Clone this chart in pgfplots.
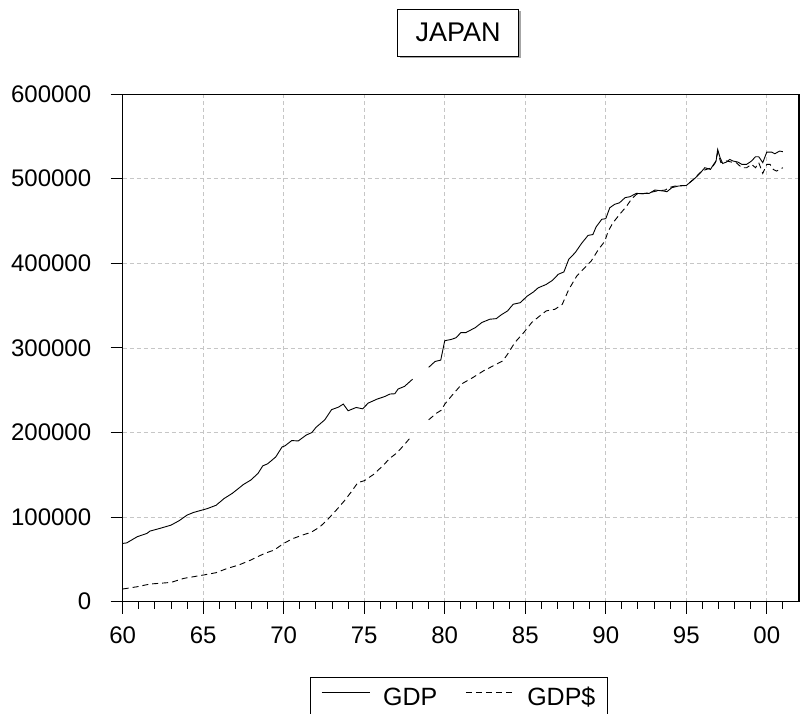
\documentclass[border=0pt]{standalone}
\usepackage{fontspec}
\setmainfont{Liberation Sans}
\usepackage{pgfplots}
\pgfplotsset{compat=1.18}
\usetikzlibrary{shadows}

\begin{document}
\begin{tikzpicture}[x=1pt,y=1pt]
\useasboundingbox (0,0) rectangle (800,713);
\begin{axis}[
  at={(122.7pt,111.3pt)}, anchor=south west,
  scale only axis, width=676.3pt, height=507.6pt,
  xmin=1960, xmax=2002, ymin=0, ymax=600000,
  axis line style={line width=1.2pt},
  xtick={1960,1965,...,2000},
  xticklabels={60,65,70,75,80,85,90,95,00},
  minor xtick={1961,1962,...,2001},
  ytick={0,100000,...,600000},
  scaled y ticks=false,
  /pgf/number format/assume math mode=true,
  tick align=outside,
  tick pos=lower,
  major tick length=12pt, minor tick length=7pt,
  tick style={black, line width=0.9pt},
  grid=major,
  major grid style={gray!45, dash pattern=on 4pt off 3pt, line width=0.8pt},
  ticklabel style={font=\fontsize{24}{24}\selectfont},
  xticklabel style={yshift=-10pt},
  yticklabel style={xshift=-16pt, /pgf/number format/.cd, fixed, 1000 sep={}},
  unbounded coords=jump,
  title={JAPAN},
  title style={at={(0.4958,1.1095)}, anchor=center, draw=black, line width=0.8pt,
    fill=white, font=\fontsize{27}{27}\selectfont, minimum width=121pt,
    minimum height=47pt, inner sep=0pt,
    drop shadow={shadow xshift=2pt, shadow yshift=-2pt, fill=gray!70, opacity=1}},
  legend columns=2,
  legend style={at={(0.497,-0.1478)}, anchor=north, draw=black, line width=0.8pt,
    fill=white, font=\fontsize{25}{25}\selectfont, inner xsep=11pt, inner ysep=0pt,
    nodes={inner xsep=1pt, inner ysep=1pt, text height=27pt, text depth=20pt},
    /tikz/every odd column/.append style={column sep=12pt},
    /tikz/every even column/.append style={column sep=27pt}},
  legend image code/.code={\draw[#1] (0pt,9pt) -- (48pt,9pt);},
]
% GDP (solid)
\addplot[black, line width=0.9pt] coordinates {
(1960.00,68900) (1960.25,69500) (1960.90,76800) (1961.50,80700) (1961.70,83500)
(1962.30,86600) (1963.00,90500) (1963.50,95700) (1964.00,102400) (1964.40,105500)
(1965.00,108700) (1965.25,110000) (1965.80,114000) (1966.30,122000) (1966.80,128000)
(1967.20,134000) (1967.50,138600) (1967.95,143700) (1968.40,151600) (1968.70,160600)
(1969.00,163000) (1969.50,171000) (1969.90,183000) (1970.06,184000) (1970.50,190500)
(1970.90,190000) (1971.40,197000) (1971.75,200000) (1972.00,206000) (1972.55,215000)
(1972.97,227000) (1973.40,230000) (1973.70,233600) (1974.00,225700) (1974.50,229600)
(1974.90,228000) (1975.25,234800) (1975.80,239500) (1976.30,242700) (1976.60,245500)
(1976.90,245800) (1977.10,251400) (1977.50,254500) (1978.00,263000)
(1978.50,nan)
(1979.00,277000) (1979.40,284000) (1979.75,285500) (1980.00,308500) (1980.40,310000)
(1980.70,312000) (1981.00,318000) (1981.30,318000) (1981.90,324000) (1982.30,330000)
(1982.80,333900) (1983.20,334600) (1983.50,339000) (1983.90,343700) (1984.25,351600)
(1984.70,353500) (1985.10,361000) (1985.50,366000) (1985.80,371000) (1986.30,375000)
(1986.70,380000) (1987.05,387000) (1987.40,389800) (1987.70,404700) (1988.10,412600)
(1988.50,423600) (1988.90,433000) (1989.20,434000) (1989.40,443000) (1989.75,452000)
(1990.00,452800) (1990.25,465700) (1990.55,469700) (1990.85,471500) (1991.20,477600)
(1991.50,478700) (1991.90,482700) (1992.20,482300) (1992.70,482700) (1993.05,486600)
(1993.60,485400) (1993.80,484600) (1994.10,489400) (1994.50,491300) (1995.00,492000)
(1995.45,499000) (1995.85,506300) (1996.15,513000) (1996.50,511000) (1996.70,517000)
(1996.85,520900) (1996.95,534600) (1997.10,524800) (1997.26,518000) (1997.50,519700)
(1997.70,522800) (1997.90,520900) (1998.20,519700) (1998.45,517000) (1998.75,517000)
(1999.05,520900) (1999.30,526000) (1999.50,526000) (1999.75,519000) (2000.00,531500)
(2000.30,531500) (2000.50,529500) (2000.80,532700) (2001.00,531900)
};
\addlegendentry{GDP}
% GDP$ (dashed)
\addplot[black, line width=0.9pt, dash pattern=on 6pt off 4pt] coordinates {
(1960.00,15000) (1960.90,17700) (1961.70,20900) (1963.00,22800) (1963.80,27600)
(1965.00,31500) (1965.80,34300) (1966.50,39400) (1967.20,43300) (1967.95,49200)
(1968.80,57000) (1969.40,61000) (1970.00,68900) (1970.55,74500) (1971.20,79000)
(1971.70,82000) (1972.25,88500) (1972.75,97600) (1973.30,109000) (1973.80,120000)
(1974.20,130000) (1974.60,140700) (1975.00,143000) (1975.55,150000) (1976.10,159700)
(1976.60,169600) (1977.00,175500) (1977.45,184600) (1977.95,196000)
(1978.50,nan)
(1979.00,215000) (1979.50,223000) (1979.80,226500) (1980.00,233500) (1980.50,245000)
(1981.10,258000) (1981.75,265000) (1982.40,272800) (1983.00,278700) (1983.60,284600)
(1983.90,292500) (1984.35,306300) (1984.90,318000) (1985.40,330000) (1985.90,337800)
(1986.30,343700) (1986.85,345700) (1987.30,351600) (1987.70,369000) (1988.20,385000)
(1988.70,394900) (1989.10,402800) (1989.55,416500) (1989.94,426000) (1990.15,438000)
(1990.45,448000) (1990.87,458000) (1991.30,467700) (1991.60,476000) (1991.90,481500)
(1992.30,482300) (1992.70,483500) (1993.15,485400) (1993.70,486600) (1993.90,489400)
(1994.30,491300) (1994.70,492000) (1995.00,492000) (1995.55,501000) (1995.95,509000)
(1996.25,511000) (1996.60,513000) (1996.80,519000) (1996.95,530700) (1997.15,519000)
(1997.50,521000) (1997.80,519700) (1998.10,519000) (1998.45,513000) (1998.75,513000)
(1999.05,517000) (1999.30,513000) (1999.50,519000) (1999.75,506300) (2000.00,517000)
(2000.20,517000) (2000.40,511000) (2000.60,509000) (2001.00,513000)
};
\addlegendentry{GDP\$}
\end{axis}
\end{tikzpicture}
\end{document}
